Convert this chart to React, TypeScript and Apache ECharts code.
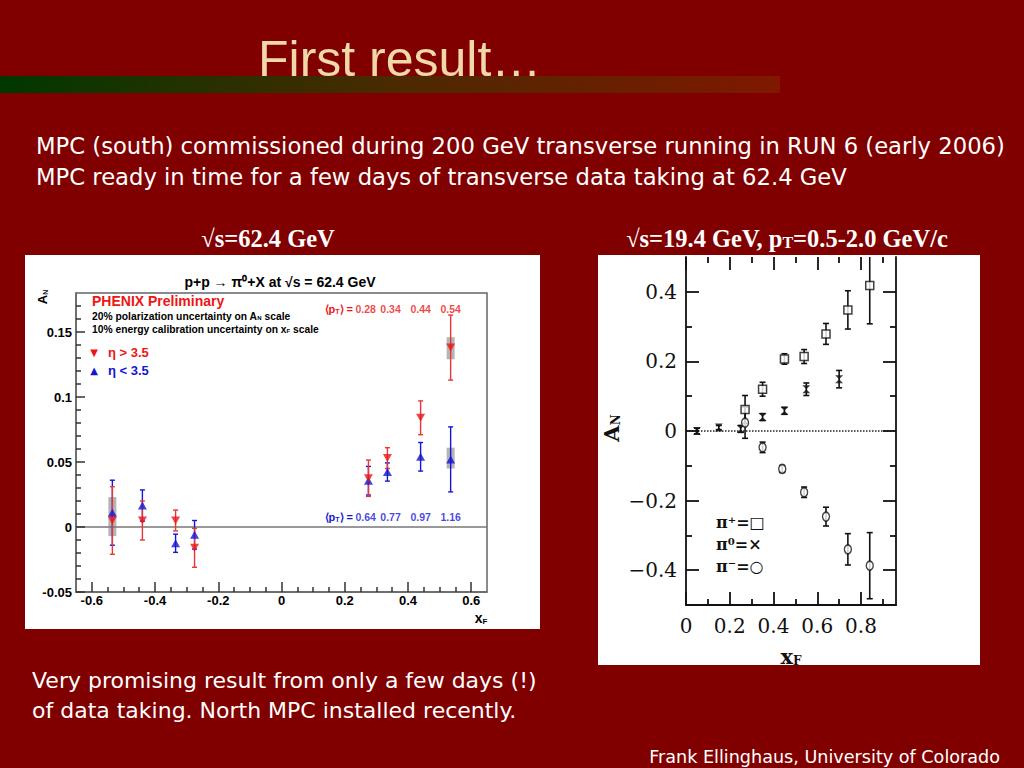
import React, { useEffect, useRef } from 'react';
import * as echarts from 'echarts';

// ---------- Left chart (PHENIX, sqrt(s)=62.4 GeV) ----------
const leftX = [-0.535, -0.44, -0.335, -0.275, 0.275, 0.335, 0.44, 0.535];
const redY = [0.005, 0.005, 0.005, -0.016, 0.0375, 0.053, 0.084, 0.138];
const redErr = [0.026, 0.015, 0.008, 0.015, 0.014, 0.008, 0.013, 0.025];
const blueY = [0.011, 0.0165, -0.0125, -0.006, 0.0356, 0.0423, 0.054, 0.052];
const blueErr = [0.025, 0.012, 0.007, 0.011, 0.011, 0.007, 0.011, 0.025];
const sysX = [-0.535, 0.535, 0.535];
const sysLow = [-0.007, 0.129, 0.045];
const sysHigh = [0.023, 0.146, 0.061];
const ptLabelX = [0.266, 0.345, 0.44, 0.535];
const ptRedLabels = ['0.28', '0.34', '0.44', '0.54'];
const ptBlueLabels = ['0.64', '0.77', '0.97', '1.16'];
const leftXTicks = [-0.6, -0.4, -0.2, 0, 0.2, 0.4, 0.6];
const leftXMinor = [-0.55, -0.5, -0.45, -0.35, -0.3, -0.25, -0.15, -0.1, -0.05, 0.05, 0.1, 0.15, 0.25, 0.3, 0.35, 0.45, 0.5, 0.55];
const leftYTicks = [-0.05, 0, 0.05, 0.1, 0.15];
const leftYMinor = [-0.04, -0.03, -0.02, -0.01, 0.01, 0.02, 0.03, 0.04, 0.06, 0.07, 0.08, 0.09, 0.11, 0.12, 0.13, 0.14, 0.16, 0.17];

// ---------- Right chart (sqrt(s)=19.4 GeV) ----------
const piPlusX = [0.27, 0.35, 0.45, 0.54, 0.64, 0.74, 0.84];
const piPlusY = [0.062, 0.12, 0.207, 0.214, 0.279, 0.348, 0.418];
const piPlusErr = [0.04, 0.02, 0.015, 0.02, 0.03, 0.055, 0.11];
const pi0X = [0.05, 0.15, 0.25, 0.35, 0.45, 0.55, 0.7];
const pi0Y = [0.0, 0.01, 0.006, 0.04, 0.058, 0.12, 0.149];
const pi0Err = [0.008, 0.006, 0.01, 0.01, 0.01, 0.018, 0.025];
const piMinusX = [0.27, 0.35, 0.44, 0.54, 0.64, 0.74, 0.84];
const piMinusY = [0.024, -0.047, -0.109, -0.176, -0.246, -0.34, -0.387];
const piMinusErr = [0.045, 0.015, 0.01, 0.015, 0.027, 0.045, 0.095];
const rightXTicks = [0, 0.2, 0.4, 0.6, 0.8];
const rightXMinor = [0.1, 0.3, 0.5, 0.7, 0.9];
const rightYTicks = [-0.4, -0.2, 0, 0.2, 0.4];
const rightYMinor = [-0.3, -0.1, 0.1, 0.3];

const SANS = 'Liberation Sans, Arial, sans-serif';
const WIDE = 'DejaVu Sans, Verdana, sans-serif';
const SERIF = 'DejaVu Serif, serif';
const TSERIF = 'Liberation Serif, Times New Roman, serif';
const RED = '#EE1515';
const BLUE = '#1515D5';

function errBar(color: string, capHalf: number, width: number) {
  return (params: any, api: any) => {
    const x = api.value(0);
    const y = api.value(1);
    const e = api.value(2);
    const t = api.coord([x, y + e]);
    const b = api.coord([x, y - e]);
    const st = { stroke: color, lineWidth: width };
    return {
      type: 'group',
      children: [
        { type: 'line', shape: { x1: t[0], y1: t[1], x2: b[0], y2: b[1] }, style: st },
        { type: 'line', shape: { x1: t[0] - capHalf, y1: t[1], x2: t[0] + capHalf, y2: t[1] }, style: st },
        { type: 'line', shape: { x1: b[0] - capHalf, y1: b[1], x2: b[0] + capHalf, y2: b[1] }, style: st },
      ],
    };
  };
}

function sysBox(params: any, api: any) {
  const x = api.value(0);
  const p1 = api.coord([x, api.value(2)]);
  const p2 = api.coord([x, api.value(1)]);
  return {
    type: 'rect',
    shape: { x: p1[0] - 4, y: p1[1], width: 8, height: p2[1] - p1[1] },
    style: { fill: 'rgba(120,120,120,0.55)' },
  };
}

function baseAxis(grid: number, min: number, max: number, extra: any) {
  return {
    type: 'value',
    gridIndex: grid,
    min,
    max,
    z: 5,
    splitLine: { show: false },
    ...extra,
  };
}

function txt(x: number, y: number, text: string, font: any, fill: string, align = 'left', extra: any = {}) {
  return {
    type: 'text',
    x,
    y,
    z: 20,
    ...extra,
    style: {
      text,
      fill,
      fontSize: font.size,
      fontFamily: font.family,
      fontWeight: font.weight || 'normal',
      align,
      textAlign: align,
      verticalAlign: 'middle',
      textVerticalAlign: 'middle',
      rich: font.rich,
    },
  };
}

export default function App() {
  const ref = useRef<HTMLDivElement>(null);
  useEffect(() => {
    if (!ref.current) return;
    const chart = echarts.init(ref.current, null, { renderer: 'svg' });

    const leftLabel = { fontFamily: SANS, fontWeight: 'bold', fontSize: 13, color: '#000' };
    const rightLabel = { fontFamily: SERIF, fontSize: 20, color: '#111' };
    const subRich = (size: number, family: string, weight: string, color: string) => ({
      sub: { fontSize: size, fontFamily: family, fontWeight: weight, color, verticalAlign: 'bottom', lineHeight: size + 2 },
    });

    const option: any = {
      animation: false,
      backgroundColor: '#800000',
      grid: [
        { left: 76, top: 293, width: 411, height: 299, show: true, borderColor: '#666', borderWidth: 1.5, backgroundColor: 'transparent', z: 5 },
        { left: 686, top: 257, width: 210, height: 348, show: false },
      ],
      xAxis: [
        baseAxis(0, -0.65, 0.65, {
          position: 'bottom',
          axisLine: { show: true, onZero: false, lineStyle: { color: '#666', width: 1.5 } },
          axisTick: { inside: true, length: 10, customValues: leftXTicks, lineStyle: { color: '#333', width: 1.5 } },
          axisLabel: { customValues: leftXTicks, margin: 2, ...leftLabel },
        }),
        baseAxis(0, -0.65, 0.65, {
          position: 'bottom',
          axisLine: { show: false, onZero: false },
          axisTick: { inside: true, length: 5, customValues: leftXMinor, lineStyle: { color: '#333', width: 1.5 } },
          axisLabel: { show: false },
        }),
        baseAxis(1, 0, 0.96, {
          position: 'bottom',
          axisLine: { show: true, onZero: false, lineStyle: { color: '#111', width: 1.8 } },
          axisTick: { inside: true, length: 13, customValues: rightXTicks, lineStyle: { color: '#111', width: 1.8 } },
          axisLabel: { customValues: rightXTicks, margin: 11, ...rightLabel },
        }),
        baseAxis(1, 0, 0.96, {
          position: 'bottom',
          axisLine: { show: false, onZero: false },
          axisTick: { inside: true, length: 6, customValues: rightXMinor, lineStyle: { color: '#111', width: 1.8 } },
          axisLabel: { show: false },
        }),
        baseAxis(1, 0, 0.96, {
          position: 'top',
          axisLine: { show: false, onZero: false },
          axisTick: { inside: true, length: 13, customValues: rightXTicks, lineStyle: { color: '#111', width: 1.8 } },
          axisLabel: { show: false },
        }),
        baseAxis(1, 0, 0.96, {
          position: 'top',
          axisLine: { show: false, onZero: false },
          axisTick: { inside: true, length: 6, customValues: rightXMinor, lineStyle: { color: '#111', width: 1.8 } },
          axisLabel: { show: false },
        }),
      ],
      yAxis: [
        baseAxis(0, -0.05, 0.18, {
          position: 'left',
          axisLine: { show: true, onZero: false, lineStyle: { color: '#666', width: 1.5 } },
          axisTick: { inside: true, length: 9, customValues: leftYTicks, lineStyle: { color: '#333', width: 1.5 } },
          axisLabel: { customValues: leftYTicks, margin: 4, ...leftLabel },
        }),
        baseAxis(0, -0.05, 0.18, {
          position: 'left',
          axisLine: { show: false, onZero: false },
          axisTick: { inside: true, length: 5, customValues: leftYMinor, lineStyle: { color: '#333', width: 1.5 } },
          axisLabel: { show: false },
        }),
        baseAxis(1, -0.5, 0.5, {
          position: 'left',
          axisLine: { show: true, onZero: false, lineStyle: { color: '#111', width: 1.8 } },
          axisTick: { inside: true, length: 13, customValues: rightYTicks, lineStyle: { color: '#111', width: 1.8 } },
          axisLabel: {
            customValues: rightYTicks,
            margin: 9,
            ...rightLabel,
            formatter: (v: number) => String(v).replace('-', '\u2212'),
          },
        }),
        baseAxis(1, -0.5, 0.5, {
          position: 'left',
          axisLine: { show: false, onZero: false },
          axisTick: { inside: true, length: 6, customValues: rightYMinor, lineStyle: { color: '#111', width: 1.8 } },
          axisLabel: { show: false },
        }),
        baseAxis(1, -0.5, 0.5, {
          position: 'right',
          axisLine: { show: true, onZero: false, lineStyle: { color: '#111', width: 1.8 } },
          axisTick: { inside: true, length: 13, customValues: rightYTicks, lineStyle: { color: '#111', width: 1.8 } },
          axisLabel: { show: false },
        }),
        baseAxis(1, -0.5, 0.5, {
          position: 'right',
          axisLine: { show: false, onZero: false },
          axisTick: { inside: true, length: 6, customValues: rightYMinor, lineStyle: { color: '#111', width: 1.8 } },
          axisLabel: { show: false },
        }),
      ],
      series: [
        // left chart
        {
          type: 'custom',
          xAxisIndex: 0,
          yAxisIndex: 0,
          z: 6,
          encode: { x: 0, y: [1, 2] },
          renderItem: sysBox,
          data: sysX.map((x, i) => [x, sysLow[i], sysHigh[i]]),
          markLine: {
            silent: true,
            symbol: 'none',
            label: { show: false },
            lineStyle: { color: '#777', width: 1.5, type: 'solid' },
            data: [{ yAxis: 0 }],
          },
        },
        {
          type: 'custom',
          xAxisIndex: 0,
          yAxisIndex: 0,
          z: 7,
          encode: { x: 0, y: 1 },
          renderItem: errBar(BLUE, 2.5, 1.4),
          data: leftX.map((x, i) => [x, blueY[i], blueErr[i]]),
        },
        {
          type: 'custom',
          xAxisIndex: 0,
          yAxisIndex: 0,
          z: 7,
          encode: { x: 0, y: 1 },
          renderItem: errBar('#E83535', 2.5, 1.4),
          data: leftX.map((x, i) => [x, redY[i], redErr[i]]),
        },
        {
          type: 'scatter',
          xAxisIndex: 0,
          yAxisIndex: 0,
          z: 8,
          symbol: 'triangle',
          symbolSize: [9, 8],
          itemStyle: { color: BLUE },
          data: leftX.map((x, i) => [x, blueY[i]]),
        },
        {
          type: 'scatter',
          xAxisIndex: 0,
          yAxisIndex: 0,
          z: 8,
          symbol: 'triangle',
          symbolRotate: 180,
          symbolSize: [9, 8],
          itemStyle: { color: RED },
          data: leftX.map((x, i) => [x, redY[i]]),
        },
        {
          type: 'scatter',
          xAxisIndex: 0,
          yAxisIndex: 0,
          z: 9,
          symbolSize: 1,
          itemStyle: { color: 'transparent' },
          label: { show: true, position: 'inside', formatter: (p: any) => p.name, color: RED, fontFamily: SANS, fontWeight: 'bold', fontSize: 10.5 },
          data: ptLabelX.map((x, i) => ({ name: ptRedLabels[i], value: [x, 0.1675] })),
        },
        {
          type: 'scatter',
          xAxisIndex: 0,
          yAxisIndex: 0,
          z: 9,
          symbolSize: 1,
          itemStyle: { color: 'transparent' },
          label: { show: true, position: 'inside', formatter: (p: any) => p.name, color: BLUE, fontFamily: SANS, fontWeight: 'bold', fontSize: 10.5 },
          data: ptLabelX.map((x, i) => ({ name: ptBlueLabels[i], value: [x, 0.0077] })),
        },
        // right chart
        {
          type: 'custom',
          xAxisIndex: 2,
          yAxisIndex: 2,
          z: 6,
          clip: true,
          encode: { x: 0, y: 1 },
          renderItem: errBar('#111', 3, 1.6),
          data: piPlusX.map((x, i) => [x, piPlusY[i], piPlusErr[i]]),
          markLine: {
            silent: true,
            symbol: 'none',
            label: { show: false },
            lineStyle: { color: '#222', width: 1.5, type: 'dotted' },
            data: [{ yAxis: 0 }],
          },
        },
        {
          type: 'custom',
          xAxisIndex: 2,
          yAxisIndex: 2,
          z: 6,
          clip: true,
          encode: { x: 0, y: 1 },
          renderItem: errBar('#111', 3, 1.6),
          data: pi0X.map((x, i) => [x, pi0Y[i], pi0Err[i]]),
        },
        {
          type: 'custom',
          xAxisIndex: 2,
          yAxisIndex: 2,
          z: 6,
          clip: true,
          encode: { x: 0, y: 1 },
          renderItem: errBar('#111', 3, 1.6),
          data: piMinusX.map((x, i) => [x, piMinusY[i], piMinusErr[i]]),
        },
        {
          type: 'scatter',
          xAxisIndex: 2,
          yAxisIndex: 2,
          z: 8,
          symbol: 'rect',
          symbolSize: 8,
          itemStyle: { color: '#fff', borderColor: '#111', borderWidth: 1.5 },
          data: piPlusX.map((x, i) => [x, piPlusY[i]]),
        },
        {
          type: 'scatter',
          xAxisIndex: 2,
          yAxisIndex: 2,
          z: 8,
          symbol: 'path://M0,0 L10,0 L0,12 L10,12 Z',
          symbolSize: [8, 8],
          itemStyle: { color: '#111' },
          data: pi0X.map((x, i) => [x, pi0Y[i]]),
        },
        {
          type: 'scatter',
          xAxisIndex: 2,
          yAxisIndex: 2,
          z: 8,
          symbol: 'circle',
          symbolSize: [7, 9],
          itemStyle: { color: '#fff', borderColor: '#111', borderWidth: 1.5 },
          data: piMinusX.map((x, i) => [x, piMinusY[i]]),
        },
      ],
      graphic: [
        // slide decoration
        {
          type: 'rect',
          z: 1,
          shape: { x: 0, y: 76, width: 780, height: 17 },
          style: {
            fill: new echarts.graphic.LinearGradient(0, 0, 1, 0, [
              { offset: 0, color: '#003800' },
              { offset: 0.5, color: '#4a2a00' },
              { offset: 1, color: '#801800' },
            ]),
          },
        },
        // white panels
        { type: 'rect', z: 1, shape: { x: 25, y: 255, width: 515, height: 374 }, style: { fill: '#ffffff' } },
        { type: 'rect', z: 1, shape: { x: 598, y: 255, width: 382, height: 410 }, style: { fill: '#ffffff' } },
        // slide texts
        txt(258, 59, 'First result\u2026', { size: 50, family: SANS }, '#F0D8A8'),
        txt(36, 146, 'MPC (south) commissioned during 200 GeV transverse running in RUN 6 (early 2006)', { size: 22.7, family: WIDE }, '#ffffff'),
        txt(36, 177, 'MPC ready in time for a few days of transverse data taking at 62.4 GeV', { size: 22.7, family: WIDE }, '#ffffff'),
        txt(268, 238, '\u221As=62.4 GeV', { size: 24.5, family: TSERIF, weight: 'bold' }, '#ffffff', 'center'),
        txt(787, 238, '\u221As=19.4 GeV, p{sub|T}=0.5-2.0 GeV/c', { size: 24.5, family: TSERIF, weight: 'bold', rich: subRich(16, TSERIF, 'bold', '#ffffff') }, '#ffffff', 'center'),
        txt(32, 680, 'Very promising result from only a few days (!)', { size: 22, family: WIDE }, '#ffffff'),
        txt(32, 710, 'of data taking. North MPC installed recently.', { size: 22, family: WIDE }, '#ffffff'),
        txt(1000, 757, 'Frank Ellinghaus, University of Colorado', { size: 17.6, family: WIDE }, '#ffffff', 'right'),
        // left chart texts
        txt(280, 282, 'p+p \u2192 \u03C0\u2070+X at \u221As = 62.4 GeV', { size: 14, family: SANS, weight: 'bold' }, '#000', 'center'),
        txt(42, 297, 'A{sub|N}', { size: 13, family: SANS, weight: 'bold', rich: subRich(7, SANS, 'bold', '#000') }, '#000', 'center', { rotation: Math.PI / 2 }),
        txt(92, 301, 'PHENIX Preliminary', { size: 14, family: SANS, weight: 'bold' }, RED),
        txt(92, 316, '20% polarization uncertainty on A{sub|N} scale', { size: 10.3, family: SANS, weight: 'bold', rich: subRich(6, SANS, 'bold', '#000') }, '#000'),
        txt(92, 329, '10% energy calibration uncertainty on x{sub|F} scale', { size: 10.3, family: SANS, weight: 'bold', rich: subRich(6, SANS, 'bold', '#000') }, '#000'),
        txt(94, 352, '\u25BC', { size: 10, family: 'DejaVu Sans, sans-serif' }, RED, 'center'),
        txt(108, 352, '\u03B7 > 3.5', { size: 13, family: SANS, weight: 'bold' }, RED),
        txt(94, 370, '\u25B2', { size: 10, family: 'DejaVu Sans, sans-serif' }, BLUE, 'center'),
        txt(108, 370, '\u03B7 < 3.5', { size: 13, family: SANS, weight: 'bold' }, BLUE),
        txt(353, 309, '\u27E8p{sub|T}\u27E9 =', { size: 11, family: SANS, weight: 'bold', rich: subRich(7, SANS, 'bold', RED) }, RED, 'right'),
        txt(353, 517, '\u27E8p{sub|T}\u27E9 =', { size: 11, family: SANS, weight: 'bold', rich: subRich(7, SANS, 'bold', BLUE) }, BLUE, 'right'),
        txt(481, 618, 'x{sub|F}', { size: 14, family: SANS, weight: 'bold', rich: subRich(8, SANS, 'bold', '#000') }, '#000', 'center'),
        // right chart texts
        txt(611, 428, 'A{sub|N}', { size: 21, family: SERIF, weight: 'bold', rich: subRich(12, SERIF, 'bold', '#111') }, '#111', 'center', { rotation: Math.PI / 2 }),
        txt(791, 656, 'x{sub|F}', { size: 21, family: SERIF, weight: 'bold', rich: subRich(12, SERIF, 'bold', '#111') }, '#111', 'center'),
        txt(716, 522, '\u03C0\u207A=\u25A1', { size: 16, family: SERIF, weight: 'bold' }, '#111'),
        txt(716, 544, '\u03C0\u2070=\u00D7', { size: 16, family: SERIF, weight: 'bold' }, '#111'),
        txt(716, 566, '\u03C0\u207B=\u25CB', { size: 16, family: SERIF, weight: 'bold' }, '#111'),
      ],
    };

    chart.setOption(option);
    return () => chart.dispose();
  }, []);

  return (
    <div
      ref={ref}
      style={{ position: 'fixed', left: 0, top: 0, width: 1024, height: 768 }}
    />
  );
}
